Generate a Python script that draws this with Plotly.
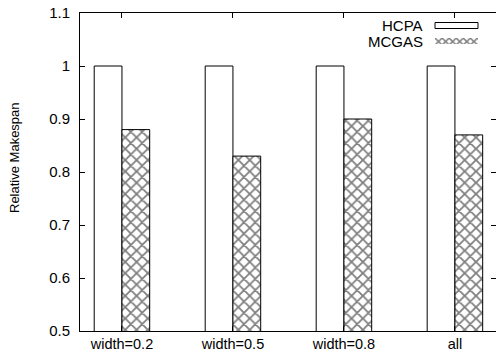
import plotly.graph_objects as go

categories = ["width=0.2", "width=0.5", "width=0.8", "all"]
hcpa = [1.0, 1.0, 1.0, 1.0]
mcgas = [0.88, 0.83, 0.90, 0.87]
series_names = ["HCPA", "MCGAS"]
y_ticks = [0.5, 0.6, 0.7, 0.8, 0.9, 1.0, 1.1]
y_tick_labels = ["0.5", "0.6", "0.7", "0.8", "0.9", "1", "1.1"]

FONT = "Liberation Sans, Arial, Helvetica, sans-serif"
FS = 15
W, H = 496, 353
L, R, T, B = 80, 0, 13, 22
PW, PH = W - L - R, H - T - B

def px_x(x):
    return (x - L) / PW

def px_y(y):
    return 1 - (y - T) / PH

HATCH = dict(shape="x", fgcolor="black", bgcolor="white", size=8, solidity=0.4)

fig = go.Figure()
fig.add_trace(go.Bar(
    x=list(range(len(categories))), y=hcpa, name=series_names[0],
    marker=dict(color="white", line=dict(color="black", width=1)),
    showlegend=False,
))
fig.add_trace(go.Bar(
    x=list(range(len(categories))), y=mcgas, name=series_names[1],
    marker=dict(color="white", line=dict(color="black", width=1), pattern=HATCH),
    showlegend=False,
))

fig.update_layout(
    width=W, height=H,
    margin=dict(l=L, r=R, t=T, b=B, pad=0, autoexpand=False),
    paper_bgcolor="white", plot_bgcolor="white",
    barmode="group", bargap=0.5, bargroupgap=0,
    font=dict(family=FONT, size=FS, color="black"),
    xaxis=dict(
        range=[-0.378, 3.37], automargin=False,
        tickvals=list(range(len(categories))), ticktext=categories,
        showline=True, linecolor="black", linewidth=1, mirror="ticks",
        ticks="inside", ticklen=5, tickcolor="black",
        showgrid=False, zeroline=False,
        tickfont=dict(family=FONT, size=14.5),
    ),
    yaxis=dict(
        range=[0.5, 1.1], automargin=False,
        tickvals=y_ticks, ticktext=y_tick_labels,
        showline=True, linecolor="black", linewidth=1, mirror="ticks",
        ticks="inside", ticklen=5, tickcolor="black",
        showgrid=False, zeroline=False,
        ticklabelstandoff=6,
        tickfont=dict(family=FONT, size=FS),
    ),
)

# y-axis title
fig.add_annotation(
    x=px_x(14), y=px_y(158), xref="paper", yref="paper", text="Relative Makespan",
    textangle=-90, showarrow=False, xanchor="center", yanchor="middle",
    font=dict(family=FONT, size=13),
)

# custom gnuplot-style legend
legend_rows = [(series_names[0], 25.5), (series_names[1], 41.5)]
for name, yc in legend_rows:
    fig.add_annotation(
        x=px_x(425), y=px_y(yc), xref="paper", yref="paper",
        text=name, showarrow=False, xanchor="right", yanchor="middle",
        font=dict(family=FONT, size=FS),
    )
fig.add_shape(
    type="rect", xref="paper", yref="paper",
    x0=px_x(435), x1=px_x(478), y0=px_y(28.5), y1=px_y(22.5),
    line=dict(color="black", width=1), fillcolor="white",
)

# hatch sample for MCGAS legend via a patterned bar on an overlay axis
fig.add_trace(go.Bar(
    x=[0], y=[1], xaxis="x2", yaxis="y2", width=1,
    marker=dict(color="white", line=dict(color="black", width=0),
                pattern=dict(shape="x", fgcolor="black", bgcolor="white",
                             size=5, solidity=0.5)),
    showlegend=False, hoverinfo="skip",
))
fig.update_layout(
    xaxis2=dict(domain=[px_x(435), px_x(478)], range=[-0.5, 0.5],
                visible=False, anchor="y2"),
    yaxis2=dict(domain=[px_y(44), px_y(38)], range=[0, 1],
                visible=False, anchor="x2"),
)

fig.write_html(
    "out.html",
    config={"displayModeBar": False},
    post_script="document.body.style.margin='0';document.body.style.overflow='hidden';",
)
